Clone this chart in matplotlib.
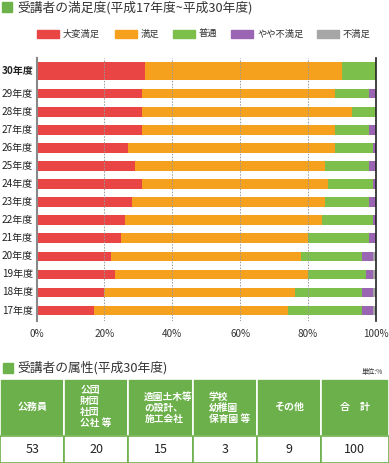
import matplotlib
matplotlib.use('Agg')
import matplotlib.pyplot as plt
from matplotlib.patches import Rectangle
import numpy as np

plt.rcParams['font.family'] = ['Noto Sans CJK JP', 'DejaVu Sans']

# satisfaction data (%), top row is 30年度
years = ['30年度', '29年度', '28年度', '27年度', '26年度', '25年度', '24年度',
         '23年度', '22年度', '21年度', '20年度', '19年度', '18年度', '17年度']
very_satisfied = [32, 31, 31, 31, 27, 29, 31, 28, 26, 25, 22, 23, 20, 17]
satisfied = [58, 57, 62, 57, 61, 56, 55, 57, 58, 55, 56, 57, 56, 57]
normal = [10, 10, 7, 10, 11, 13, 13, 13, 15, 18, 18, 17, 20, 22]
bit_unsatisfied = [0, 2, 0, 2, 1, 2, 1, 2, 1, 2, 3, 2, 3, 3]
unsatisfied = [0, 0, 0, 0, 0, 0, 0, 0, 0, 0, 1, 1, 1, 1]

labels = ['大変満足', '満足', '普通', 'やや不満足', '不満足']
colors = ['#EA4545', '#F5A11D', '#7DBF4B', '#9A66B4', '#A6A6A6']

# attribute table
attr_headers = ['公務員', '公団\n財団\n社団\n公社 等', '造園土木等\nの設計、\n施工会社',
                '学校\n幼稚園\n保育園 等', 'その他', '合　計']
attr_values = [53, 20, 15, 3, 9, 100]

W, H = 389, 463
fig = plt.figure(figsize=(W / 100, H / 100), dpi=100)
txt = '#333333'


def fx(px):
    return px / W


def fy(py):
    return 1 - py / H


# titles
fig.patches.append(Rectangle((fx(2), fy(12)), 10 / W, 10 / H, color='#6DB24A',
                             transform=fig.transFigure, figure=fig))
fig.text(fx(17), fy(7.5), '受講者の満足度(平成17年度~平成30年度)', fontsize=9.2,
         color=txt, va='center', ha='left')

# legend
leg_x = [37, 115, 173, 231, 317]
for lx, lab, c in zip(leg_x, labels, colors):
    fig.patches.append(Rectangle((fx(lx), fy(38)), 22 / W, 8 / H, color=c,
                                 transform=fig.transFigure, figure=fig))
    fig.text(fx(lx + 26), fy(34), lab, fontsize=6.7, color=txt, va='center', ha='left')

# bar chart
ax = fig.add_axes([fx(36.5), fy(321), (376 - 36.5) / W, (321 - 58) / H])
spacing = 18.07
pos = [-22.7 / spacing] + list(range(13))
heights = [1.0] + [0.53] * 13
series = [very_satisfied, satisfied, normal, bit_unsatisfied, unsatisfied]
left = np.zeros(len(years))
for vals, c in zip(series, colors):
    ax.barh(pos, vals, left=left, height=heights, color=c, linewidth=0, zorder=2)
    left += np.array(vals)

ax.set_xlim(0, 100)
ax.set_ylim(12 + 10.5 / spacing, -35.7 / spacing)
for g in [20, 40, 60, 80]:
    ax.axvline(g, color='#999999', lw=0.7, ls=(0, (1.5, 1.5)), zorder=3)
for s in ['top', 'bottom']:
    ax.spines[s].set_visible(False)
ax.spines['left'].set_color('#888888')
ax.spines['left'].set_linewidth(1.5)
ax.spines['right'].set_color('#222222')
ax.spines['right'].set_linewidth(1.2)
ax.set_yticks(pos)
ax.set_yticklabels([])
ax.tick_params(axis='y', length=0)
ax.set_xticks([0, 20, 40, 60, 80, 100])
ax.set_xticklabels(['0%', '20%', '40%', '60%', '80%', '100%'])
ax.tick_params(axis='x', length=0, labelsize=7.2, labelcolor=txt, pad=6)
for p, y in zip(pos, years):
    ax.text(-34.5 / 3.395, p, y, ha='left', va='center', fontsize=7.2, color='#222222',
            fontweight='bold' if y == '30年度' else 'normal')

# attribute section
fig.patches.append(Rectangle((fx(3), fy(372.5)), 10 / W, 10 / H, color='#6DB24A',
                             transform=fig.transFigure, figure=fig))
fig.text(fx(17), fy(367.5), '受講者の属性(平成30年度)', fontsize=9.2, color=txt,
         va='center', ha='left')
fig.text(fx(383), fy(372), '単位:%', fontsize=4.8, color=txt, va='center', ha='right')

tx = fig.add_axes([0, 0, 1, fy(378.5)])
tx.set_xlim(0, W)
tx.set_ylim(463, 378.5)
tx.axis('off')
col_edges = [0, 64.3, 128.3, 192.7, 256.7, 320.7, 389]
green = '#6BB04A'
head_bottom = 435.5
for i, (hd, v) in enumerate(zip(attr_headers, attr_values)):
    x0, x1 = col_edges[i], col_edges[i + 1]
    tx.add_patch(Rectangle((x0, 378.5), x1 - x0, head_bottom - 378.5, facecolor=green,
                           edgecolor='white', lw=1.2))
    tx.add_patch(Rectangle((x0, head_bottom), x1 - x0, 463 - head_bottom, facecolor='white',
                           edgecolor=green, lw=1.2))
    if '\n' in hd:
        n = hd.count('\n') + 1
        tx.text(x0 + 16, 406.5 + (0 if n == 4 else 1.5), hd, ha='left', va='center',
                fontsize=7, color='white', fontweight='bold', linespacing=1.15)
    else:
        tx.text((x0 + x1) / 2, 406.5, hd, ha='center', va='center', fontsize=7.2,
                color='white', fontweight='bold')
    tx.text((x0 + x1) / 2, 449.5, str(v), ha='center', va='center', fontsize=9,
            color='#222222')

fig.savefig('out.png', dpi=100)
